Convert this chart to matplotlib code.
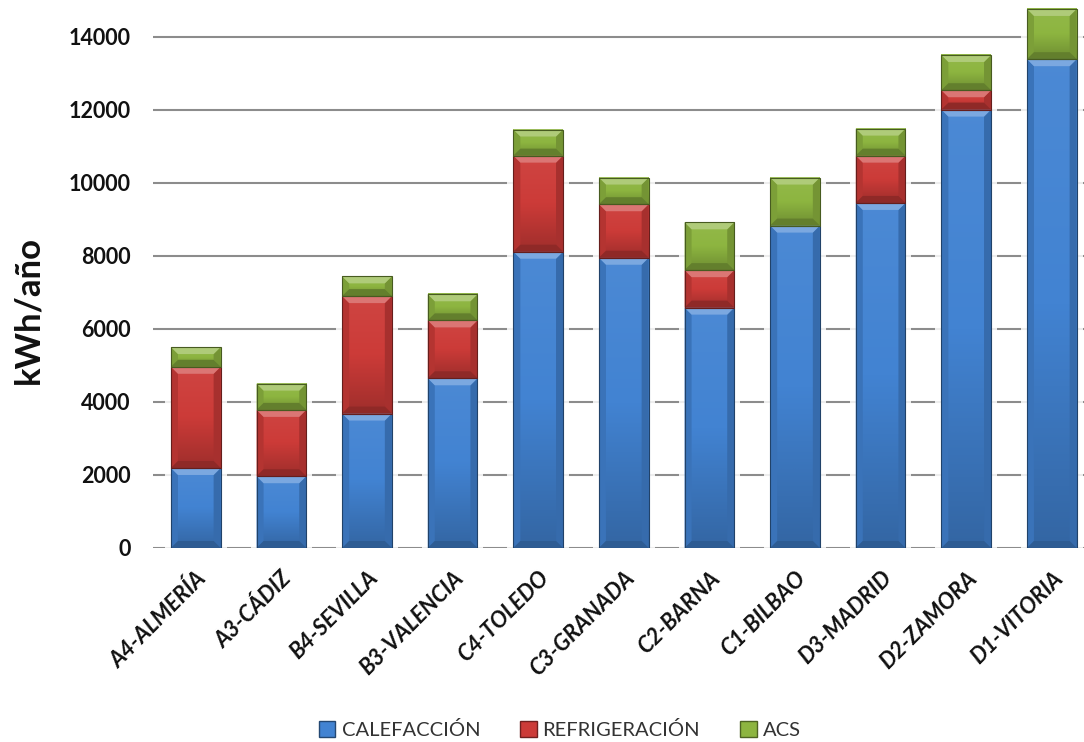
import matplotlib
matplotlib.use('Agg')
import matplotlib.pyplot as plt
import numpy as np
from matplotlib.patches import Polygon, Rectangle, Patch
from matplotlib.colors import to_rgb, LinearSegmentedColormap

plt.rcParams['font.family'] = ['Lato', 'DejaVu Sans']

zonas = ['A4-ALMERÍA', 'A3-CÁDIZ', 'B4-SEVILLA', 'B3-VALENCIA', 'C4-TOLEDO',
         'C3-GRANADA', 'C2-BARNA', 'C1-BILBAO', 'D3-MADRID', 'D2-ZAMORA',
         'D1-VITORIA']
calefaccion = [2190, 1965, 3680, 4645, 8110, 7945, 6580, 8825, 9445, 12000, 13380]
refrigeracion = [2770, 1815, 3215, 1585, 2630, 1465, 1025, 0, 1295, 530, 0]
acs = [540, 720, 540, 715, 715, 730, 1310, 1315, 740, 965, 1375]

series = [('CALEFACCIÓN', calefaccion, '#4283d2'),
          ('REFRIGERACIÓN', refrigeracion, '#cc3b38'),
          ('ACS', acs, '#8db540')]

W, H = 1084, 742
fig = plt.figure(figsize=(W / 100, H / 100), dpi=100)
ax = fig.add_axes([153 / W, 194 / H, (W - 153) / W, 548 / H])
x = np.arange(len(zonas))
ax.set_xlim(-0.5, 10.376)
ax.set_ylim(0, 15000)

# pixels per data unit, used to size the bevels
ppx = (W - 153) / (10.376 + 0.5)
ppy = 548 / 15000


def mix(c, other, t):
    c = np.array(to_rgb(c))
    return tuple(c + (np.array(to_rgb(other)) - c) * t)


def shade(p, col):
    x0, y0 = p.get_x(), p.get_y()
    w, h = p.get_width(), p.get_height()
    if h <= 0:
        return
    x1, y1 = x0 + w, y0 + h
    # vertical gradient inside the segment
    cmap = LinearSegmentedColormap.from_list(
        'g', [mix(col, 'black', 0.22), col, mix(col, 'white', 0.05)])
    grad = np.linspace(0, 1, 64).reshape(-1, 1)
    ax.imshow(grad, extent=(x0, x1, y0, y1), origin='lower', aspect='auto',
              cmap=cmap, zorder=3.1, interpolation='bicubic')
    dx = 7 / ppx
    dy = min(7 / ppy, h / 2)
    dxs = min(dx, dy * ppy / ppx)
    top = [(x0, y1), (x1, y1), (x1 - dxs, y1 - dy), (x0 + dxs, y1 - dy)]
    bot = [(x0, y0), (x1, y0), (x1 - dxs, y0 + dy), (x0 + dxs, y0 + dy)]
    left = [(x0, y0), (x0, y1), (x0 + dxs, y1 - dy), (x0 + dxs, y0 + dy)]
    right = [(x1, y0), (x1, y1), (x1 - dxs, y1 - dy), (x1 - dxs, y0 + dy)]
    ax.add_patch(Polygon(top, closed=True, fc=mix(col, 'white', 0.3), ec='none', zorder=3.3))
    ax.add_patch(Polygon(bot, closed=True, fc=mix(col, 'black', 0.3), ec='none', zorder=3.3))
    ax.add_patch(Polygon(left, closed=True, fc=mix(col, 'black', 0.12), ec='none', zorder=3.2))
    ax.add_patch(Polygon(right, closed=True, fc=mix(col, 'black', 0.18), ec='none', zorder=3.2))
    ax.add_patch(Rectangle((x0, y0), w, h, fc='none', ec=mix(col, 'black', 0.5),
                           lw=0.8, zorder=3.4))


width = 0.58
bottom = np.zeros(len(zonas))
handles = []
for name, vals, col in series:
    vals = np.array(vals, dtype=float)
    bars = ax.bar(x, vals, width, bottom=bottom, color=col, zorder=3)
    for p in bars.patches:
        shade(p, col)
    bottom += vals
    handles.append(Patch(fc=col, ec=mix(col, 'black', 0.45), label=name))

# soft halo behind each stacked bar
halo = 6 / ppx
for xi, tot in zip(x, bottom):
    ax.add_patch(Rectangle((xi - width / 2 - halo, 0), width + 2 * halo, tot,
                           fc='white', ec='none', alpha=0.85, zorder=2))

ax.set_yticks(np.arange(0, 14001, 2000))
ax.yaxis.grid(True, color='#8c8c8c', lw=1.5, zorder=0)
ax.set_axisbelow(True)
for s in ax.spines.values():
    s.set_visible(False)
ax.tick_params(axis='both', length=0)
ax.tick_params(axis='y', pad=16, labelsize=15.5)
for t in ax.get_yticklabels():
    t.set_fontweight('bold')
    t.set_color('#111111')

ax.set_xticks(x)
ax.set_xticklabels(zonas, rotation=45, ha='right', rotation_mode='anchor',
                   fontsize=16, fontweight='bold', fontstyle='italic',
                   color='#111111')
ax.tick_params(axis='x', pad=14)

fig.text(28 / W, 1 - 310 / H, 'kWh/año', rotation=90, ha='center', va='center',
         fontsize=25, fontweight='bold', color='#111111')

fig.legend(handles=handles, loc='center', bbox_to_anchor=(560 / W, 1 - 730 / H),
           ncol=3, frameon=False, fontsize=14.5, handlelength=0.8, handleheight=0.8,
           handletextpad=0.3, columnspacing=2.0, labelcolor='#333333')

fig.savefig('out.png', dpi=100)
